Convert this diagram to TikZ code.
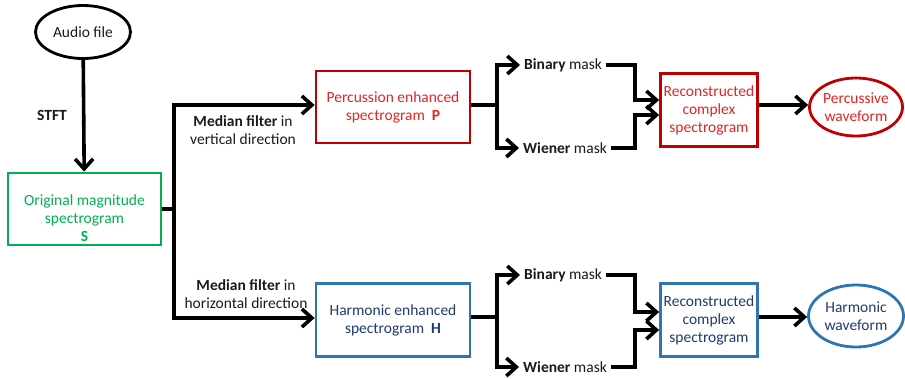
\documentclass[tikz,border=0pt]{standalone}
\usepackage{fontspec}
\setmainfont{Carlito}
\usetikzlibrary{arrows.meta,shapes.geometric,calc}
\definecolor{bordred}{HTML}{C00000}
\definecolor{txtred}{HTML}{E02525}
\definecolor{bordblue}{HTML}{2E75B6}
\definecolor{txtblue}{HTML}{1F3A6E}
\definecolor{grn}{HTML}{00B050}
\definecolor{txtblk}{HTML}{1A1A1A}
\tikzset{
  base/.style={font=\fontsize{15.5}{18}\selectfont, align=center, inner sep=1pt, text=txtblk},
  boxr/.style={base, draw=bordred, line width=2.8pt, text=txtred, minimum width=154pt, minimum height=72pt},
  boxb/.style={base, draw=bordblue, line width=2.8pt, text=txtblue, minimum width=154pt, minimum height=73pt},
  recr/.style={boxr, minimum width=97pt, minimum height=73pt},
  recb/.style={boxb, minimum width=97pt, minimum height=73pt},
  lbl/.style={base},
  masklbl/.style={base, anchor=west, inner xsep=4pt},
  conn/.style={line width=3.6pt, black, line join=miter},
  arr/.style={conn, -{Straight Barb[length=10pt,width=18pt,line width=3.6pt]}},
}
\begin{document}
\begin{tikzpicture}[x=1pt,y=-1pt]
\useasboundingbox (0,0) rectangle (905,378);
% nodes
\node[base, ellipse, draw=black, line width=2.8pt, minimum width=95pt, minimum height=53pt] (audio) at (83,32) {Audio file};
\node[draw=grn, line width=2.8pt, minimum width=153pt, minimum height=72pt] (orig) at (84.5,209) {};
\node[base, text=grn] (origtxt) at (84.5,218) {Original magnitude\\spectrogram\\\textbf{S}};
\node[lbl, font=\fontsize{15.5}{18}\selectfont\bfseries] (stft) at (52,115) {STFT};
\node[boxr] (perc) at (393,107) {Percussion enhanced\\spectrogram\ \ \textbf{P}};
\node[boxb] (harm) at (393,320) {Harmonic enhanced\\spectrogram\ \ \textbf{H}};
\node[lbl] (medv) at (243,130) {\textbf{Median filter} in\\vertical direction};
\node[lbl] (medh) at (246,294) {\textbf{Median filter} in\\horizontal direction};
\node[masklbl] (binP) at (520,65) {\textbf{Binary} mask};
\node[masklbl] (wieP) at (519,148) {\textbf{Wiener} mask};
\node[masklbl] (binH) at (520,275) {\textbf{Binary} mask};
\node[masklbl] (wieH) at (519,367) {\textbf{Wiener} mask};
\node[recr] (recP) at (709,110) {Reconstructed\\complex\\spectrogram};
\node[recb] (recH) at (709,320) {Reconstructed\\complex\\spectrogram};
\node[base, ellipse, draw=bordred, line width=2.8pt, text=txtred, minimum width=93pt, minimum height=58pt, inner sep=0pt] (pwave) at (856,107) {Percussive\\waveform};
\node[base, ellipse, draw=bordblue, line width=2.8pt, text=txtblue, minimum width=95pt, minimum height=62pt, inner sep=0pt] (hwave) at (856,316) {Harmonic\\waveform};
% helper coordinates
\coordinate (split) at (174,209);
\coordinate (pj) at (497,105);
\coordinate (hj) at (497,317);
\coordinate (mx) at (635,0);
\coordinate (recPa) at ([yshift=10pt]recP.west);
\coordinate (recPb) at ([yshift=-5pt]recP.west);
\coordinate (recHa) at ([yshift=8pt]recH.west);
\coordinate (recHb) at ([yshift=-10pt]recH.west);
% connectors
\draw[arr] (audio) -- (orig);
\draw[conn] (orig.east) -- (split);
\draw[arr] (split) |- (perc.west |- 0,105);
\draw[arr] (split) |- (harm.west |- 0,318);
\draw[conn] (perc.east |- pj) -- (pj);
\draw[arr] (pj) |- (binP.west);
\draw[arr] (pj) |- (wieP.west);
\draw[conn] (harm.east |- hj) -- (hj);
\draw[arr] (hj) |- (binH.west);
\draw[arr] (hj) |- (wieH.west);
\draw[arr] (binP.east) -| (mx |- recPa) -- (recPa);
\draw[arr] (wieP.east) -| (mx |- recPb) -- (recPb);
\draw[arr] (binH.east) -| (mx |- recHa) -- (recHa);
\draw[arr] (wieH.east) -| (mx |- recHb) -- (recHb);
\draw[arr] (recP.east |- 0,105) -- (pwave.west |- 0,105);
\draw[arr] (recH.east |- 0,317) -- (hwave.west |- 0,317);
\end{tikzpicture}
\end{document}
